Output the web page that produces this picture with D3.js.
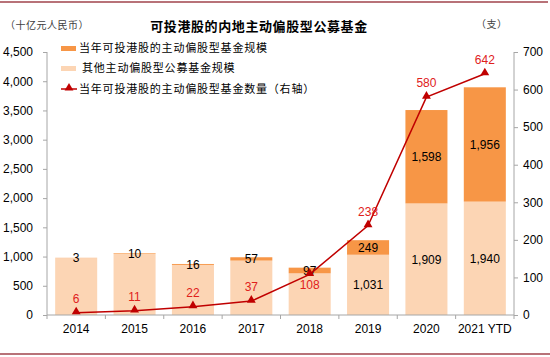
<!DOCTYPE html>
<html>
<head>
<meta charset="utf-8">
<script src="https://cdn.jsdelivr.net/npm/d3@7"></script>
<style>
  html, body { margin: 0; padding: 0; background: #fff; }
  svg { display: block; }
  text { font-family: "Liberation Sans", Arial, "Noto Sans CJK SC", sans-serif; }
  .cjk { font-family: "Noto Sans CJK SC", "Liberation Sans", sans-serif; }
</style>
</head>
<body>
<svg id="chart" width="550" height="357"></svg>
<script>
const categories = ["2014", "2015", "2016", "2017", "2018", "2019", "2020", "2021 YTD"];
const otherScale = [975, 1050, 857, 931, 713, 1031, 1909, 1940];
const hkScale = [3, 10, 16, 57, 97, 249, 1598, 1956];
const hkCount = [6, 11, 22, 37, 108, 238, 580, 642];
const leftTicks = [0, 500, 1000, 1500, 2000, 2500, 3000, 3500, 4000, 4500];
const rightTicks = [0, 100, 200, 300, 400, 500, 600, 700];
const legendLabels = ["当年可投港股的主动偏股型基金规模", "其他主动偏股型公募基金规模", "当年可投港股的主动偏股型基金数量（右轴）"];
const titleText = "可投港股的内地主动偏股型公募基金";
const leftUnit = "（十亿元人民币）";
const rightUnit = "（支）";

const C_DARK = "#F79646", C_LIGHT = "#FCD5B4", C_LINE = "#C00000", C_LABEL = "#E0201B";
const AXIS = "#A6A6A6";

const svg = d3.select("#chart");
const x0 = 47, x1 = 514, yTop = 52, yBot = 315;

const x = d3.scaleBand().domain(categories).range([x0, x1]).paddingInner(0.28).paddingOuter(0.14);
const yL = d3.scaleLinear().domain([0, 4500]).range([yBot, yTop]);
const yR = d3.scaleLinear().domain([0, 700]).range([yBot, yTop]);

// frame lines
svg.append("line").attr("x1", 0).attr("x2", 548).attr("y1", 2).attr("y2", 2)
  .attr("stroke", "#A0434B").attr("stroke-width", 1.5);
svg.append("line").attr("x1", 0).attr("x2", 550).attr("y1", 354).attr("y2", 354)
  .attr("stroke", "#A0434B").attr("stroke-width", 1.5);

// title & units
svg.append("text").attr("class", "cjk").attr("x", 259).attr("y", 31).attr("text-anchor", "middle")
  .attr("font-size", 13).attr("font-weight", "bold").attr("letter-spacing", 0.6).attr("fill", "#000").text(titleText);
svg.append("text").attr("class", "cjk").attr("x", 5).attr("y", 29).attr("font-size", 10)
  .attr("letter-spacing", 0.5).attr("fill", "#404040").text(leftUnit);
svg.append("text").attr("class", "cjk").attr("x", 476).attr("y", 28).attr("font-size", 10)
  .attr("letter-spacing", 0.5).attr("fill", "#404040").text(rightUnit);

// bars
const data = categories.map((c, i) => ({ c, i, other: otherScale[i], hk: hkScale[i], n: hkCount[i] }));
const g = svg.append("g");
g.selectAll("rect.other").data(data).join("rect")
  .attr("x", d => x(d.c)).attr("width", x.bandwidth())
  .attr("y", d => yL(d.other)).attr("height", d => yL(0) - yL(d.other))
  .attr("fill", C_LIGHT);
g.selectAll("rect.hk").data(data).join("rect")
  .attr("x", d => x(d.c)).attr("width", x.bandwidth())
  .attr("y", d => yL(d.other + d.hk)).attr("height", d => yL(d.other) - yL(d.other + d.hk))
  .attr("fill", C_DARK);

// axes
const axL = svg.append("g").attr("transform", `translate(${x0},0)`)
  .call(d3.axisLeft(yL).tickValues(leftTicks).tickSize(4).tickPadding(10).tickFormat(d3.format(",")));
const axR = svg.append("g").attr("transform", `translate(${x1},0)`)
  .call(d3.axisRight(yR).tickValues(rightTicks).tickSize(4).tickPadding(5));
[axL, axR].forEach(a => {
  a.select(".domain").attr("stroke", AXIS).attr("d", `M0,${yTop}V${yBot}`);
  a.selectAll(".tick line").attr("stroke", AXIS);
  a.selectAll(".tick text").attr("font-size", 12).attr("fill", "#000")
    .attr("font-family", "'Liberation Sans', Arial, sans-serif");
});
// x axis
svg.append("line").attr("x1", x0).attr("x2", x1).attr("y1", yBot).attr("y2", yBot).attr("stroke", AXIS);
const bounds = categories.map(c => x(c) - x.step() * 0.14).concat([x1]);
svg.selectAll("line.xt").data(bounds).join("line")
  .attr("x1", d => d).attr("x2", d => d).attr("y1", yBot).attr("y2", yBot + 4).attr("stroke", AXIS);
svg.selectAll("text.xl").data(categories).join("text")
  .attr("x", d => x(d) + x.bandwidth() / 2).attr("y", 333).attr("text-anchor", "middle")
  .attr("font-size", 12).attr("fill", "#000").text(d => d);

// bar labels
svg.selectAll("text.hkl").data(data).join("text")
  .attr("x", d => x(d.c) + x.bandwidth() / 2)
  .attr("y", d => (yL(d.other) + yL(d.other + d.hk)) / 2 + 4.5)
  .attr("text-anchor", "middle").attr("font-size", 12).attr("fill", "#000")
  .text(d => d3.format(",")(d.hk));
svg.selectAll("text.otl").data(data.filter(d => d.i >= 5)).join("text")
  .attr("x", d => x(d.c) + x.bandwidth() / 2)
  .attr("y", d => (yL(0) + yL(d.other)) / 2 + 4.5)
  .attr("text-anchor", "middle").attr("font-size", 12).attr("fill", "#000")
  .text(d => d3.format(",")(d.other));

// line
const cx = d => x(d.c) + x.bandwidth() / 2;
svg.append("path").datum(data)
  .attr("d", d3.line().x(cx).y(d => yR(d.n)))
  .attr("fill", "none").attr("stroke", C_LINE).attr("stroke-width", 1.5);
const tri = d3.symbol().type(d3.symbolTriangle).size(34);
svg.selectAll("path.mk").data(data).join("path")
  .attr("d", tri).attr("transform", d => `translate(${cx(d)},${yR(d.n) - 1})`)
  .attr("fill", C_LINE);
svg.selectAll("text.nl").data(data).join("text")
  .attr("x", cx)
  .attr("y", d => d.c === "2018" ? yR(d.n) + 15 : yR(d.n) - 10)
  .attr("text-anchor", "middle").attr("font-size", 12).attr("fill", C_LABEL)
  .text(d => d.n);

// legend
const lg = svg.append("g");
lg.append("rect").attr("x", 61).attr("y", 46).attr("width", 15).attr("height", 5).attr("fill", C_DARK);
lg.append("rect").attr("x", 61).attr("y", 66).attr("width", 15).attr("height", 5).attr("fill", C_LIGHT);
lg.append("line").attr("x1", 61).attr("x2", 77).attr("y1", 89).attr("y2", 89).attr("stroke", C_LINE).attr("stroke-width", 1.5);
lg.append("path").attr("d", tri).attr("transform", "translate(69,88)").attr("fill", C_LINE);
[[79, 52], [82, 72], [79, 93]].forEach(([tx, ty], i) => {
  lg.append("text").attr("class", "cjk").attr("x", tx).attr("y", ty)
    .attr("font-size", 11).attr("letter-spacing", 0.8).attr("fill", "#000").text(legendLabels[i]);
});
</script>
</body>
</html>
